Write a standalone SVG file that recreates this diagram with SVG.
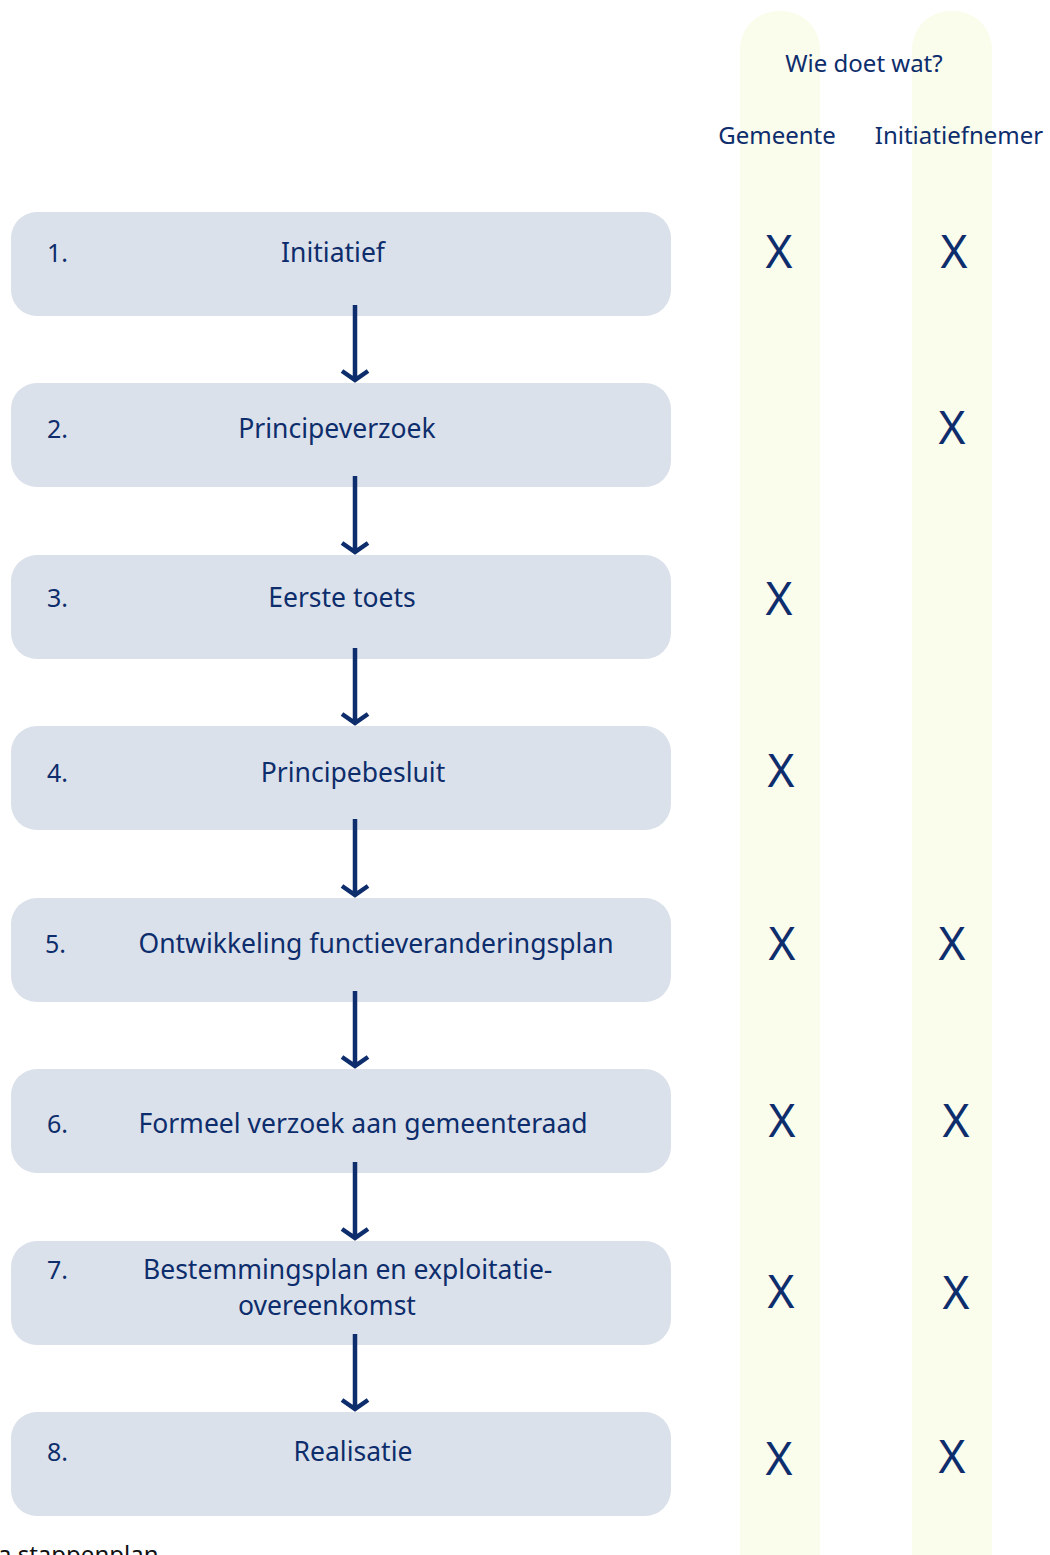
<svg xmlns="http://www.w3.org/2000/svg" width="1050" height="1555" viewBox="0 0 1050 1555">
<defs>
<style>
.col{fill:#fafcec}
.box{fill:#dbe1ea}
.h{font-family:"Noto Sans","Liberation Sans",sans-serif;font-size:24px;fill:#0d2d6c;text-anchor:middle}
.t{font-family:"Noto Sans","Liberation Sans",sans-serif;font-size:26.5px;fill:#0d2d6c}
.n{font-family:"Noto Sans","Liberation Sans",sans-serif;font-size:25px;fill:#0d2d6c}
.m{text-anchor:middle}
.x{font-family:"Noto Sans","Liberation Sans",sans-serif;font-size:46px;fill:#0d2d6c;text-anchor:middle}
.a{stroke:#0d2d6c;stroke-width:4.5;fill:none}
</style>
</defs>
<rect width="1050" height="1555" fill="#fff"/>
<g id="columns">
<rect class="col" x="740" y="11" width="80" height="1580" rx="38"/>
<rect class="col" x="912" y="11" width="80" height="1580" rx="38"/>
</g>
<g id="header">
<text class="h" x="864" y="72">Wie doet wat?</text>
<text class="h" x="777" y="144">Gemeente</text>
<text class="h" x="959" y="144">Initiatiefnemer</text>
</g>
<g id="step1"><rect class="box" x="11" y="212" width="660" height="104" rx="26"/><text class="n" x="47" y="262">1.</text><text class="t m" x="333" y="262">Initiatief</text></g>
<g id="step2"><rect class="box" x="11" y="383" width="660" height="104" rx="26"/><text class="n" x="47" y="438">2.</text><text class="t m" x="337" y="438">Principeverzoek</text></g>
<g id="step3"><rect class="box" x="11" y="555" width="660" height="104" rx="26"/><text class="n" x="47" y="607">3.</text><text class="t m" x="342" y="607">Eerste toets</text></g>
<g id="step4"><rect class="box" x="11" y="726" width="660" height="104" rx="26"/><text class="n" x="47" y="782">4.</text><text class="t m" x="353" y="782">Principebesluit</text></g>
<g id="step5"><rect class="box" x="11" y="898" width="660" height="104" rx="26"/><text class="n" x="45" y="953">5.</text><text class="t m" x="376" y="953">Ontwikkeling functieveranderingsplan</text></g>
<g id="step6"><rect class="box" x="11" y="1069" width="660" height="104" rx="26"/><text class="n" x="47" y="1133">6.</text><text class="t m" x="363" y="1133">Formeel verzoek aan gemeenteraad</text></g>
<g id="step7"><rect class="box" x="11" y="1241" width="660" height="104" rx="26"/><text class="n" x="47" y="1279">7.</text><text class="t" x="143" y="1279">Bestemmingsplan en exploitatie-</text><text class="t m" x="327" y="1315">overeenkomst</text></g>
<g id="step8"><rect class="box" x="11" y="1412" width="660" height="104" rx="26"/><text class="n" x="47" y="1461">8.</text><text class="t m" x="353" y="1461">Realisatie</text></g>
<g id="connectors">
<path class="a" d="M355 305V380M342 371L355 380L368 371"/>
<path class="a" d="M355 476V552M342 543L355 552L368 543"/>
<path class="a" d="M355 648V723M342 714L355 723L368 714"/>
<path class="a" d="M355 819V895M342 886L355 895L368 886"/>
<path class="a" d="M355 991V1066M342 1057L355 1066L368 1057"/>
<path class="a" d="M355 1162V1238M342 1229L355 1238L368 1229"/>
<path class="a" d="M355 1334V1409M342 1400L355 1409L368 1400"/>
</g>
<g id="marks">
<text class="x" x="779" y="268">X</text><text class="x" x="954" y="268">X</text>
<text class="x" x="952" y="444">X</text>
<text class="x" x="779" y="615">X</text>
<text class="x" x="781" y="787">X</text>
<text class="x" x="782" y="960">X</text><text class="x" x="952" y="960">X</text>
<text class="x" x="782" y="1137">X</text><text class="x" x="956" y="1137">X</text>
<text class="x" x="781" y="1308">X</text><text class="x" x="956" y="1309">X</text>
<text class="x" x="779" y="1475">X</text><text class="x" x="952" y="1473">X</text>
</g>
<text x="-2" y="1563" style="font-family:'Noto Sans','Liberation Sans',sans-serif;font-size:24px;fill:#111">a stappenplan</text>
</svg>
